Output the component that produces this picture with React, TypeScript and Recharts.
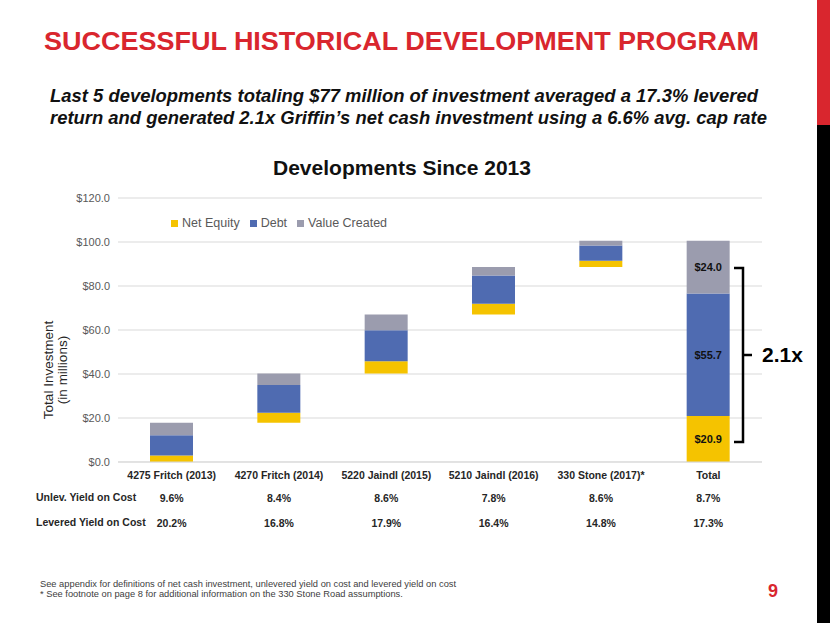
import React from 'react';
import { BarChart, Bar, XAxis, YAxis, CartesianGrid, Legend, LabelList } from 'recharts';

const categories = [
  '4275 Fritch (2013)',
  '4270 Fritch (2014)',
  '5220 Jaindl (2015)',
  '5210 Jaindl (2016)',
  '330 Stone (2017)*',
  'Total',
];
const netEquity = [3.0, 4.6, 5.6, 4.8, 2.9, 20.9];
const debt = [9.2, 12.6, 14.1, 12.9, 6.9, 55.7];
const valueCreated = [5.6, 5.2, 7.2, 3.8, 2.2, 24.0];
const unlevYield = ['9.6%', '8.4%', '8.6%', '7.8%', '8.6%', '8.7%'];
const leveredYield = ['20.2%', '16.8%', '17.9%', '16.4%', '14.8%', '17.3%'];
const seriesNames = ['Net Equity', 'Debt', 'Value Created'];
const yTicks = [0, 20, 40, 60, 80, 100, 120];

const FONT = '"Liberation Sans", Arial, sans-serif';
const YELLOW = '#F5C300';
const BLUE = '#4F6BB1';
const GREY = '#9B9CAE';

// waterfall: each development sits on top of the previous ones, the total starts at zero
let running = 0;
const data = categories.map((name, i) => {
  const isTotal = name === 'Total';
  const base = isTotal ? 0 : running;
  if (!isTotal) running += netEquity[i] + debt[i] + valueCreated[i];
  return {
    name,
    base,
    netEquity: netEquity[i],
    debt: debt[i],
    valueCreated: valueCreated[i],
    eqLabel: isTotal ? netEquity[i] : undefined,
    debtLabel: isTotal ? debt[i] : undefined,
    valueLabel: isTotal ? valueCreated[i] : undefined,
  };
});

const money = (v: any) => (v == null ? '' : `$${Number(v).toFixed(1)}`);

const CategoryTick = (props: any) => {
  const { x, y, payload } = props;
  const i = payload.index;
  return (
    <g fontFamily={FONT} fontWeight="bold" fontSize={10.5} fill="#262626">
      <text x={x} y={y + 9} textAnchor="middle">{payload.value}</text>
      <text x={x} y={y + 32} textAnchor="middle">{unlevYield[i]}</text>
      <text x={x} y={y + 57} textAnchor="middle">{leveredYield[i]}</text>
    </g>
  );
};

export default function App() {
  return (
    <div style={{ position: 'absolute', left: 0, top: 0, width: 830, height: 623, background: '#fff', fontFamily: FONT }}>
      <div style={{ position: 'absolute', left: 0, top: 0 }}>
        <BarChart
          width={830}
          height={623}
          data={data}
          margin={{ top: 198, right: 68, left: 58, bottom: 131 }}
          barSize={43}
        >
          <CartesianGrid vertical={false} stroke="#d9d9d9" />
          <XAxis
            dataKey="name"
            height={30}
            axisLine={{ stroke: '#d9d9d9' }}
            tickLine={false}
            interval={0}
            tick={<CategoryTick />}
          />
          <YAxis
            domain={[0, 120]}
            ticks={yTicks}
            width={60}
            axisLine={false}
            tickLine={false}
            tickSize={6}
            tickFormatter={money}
            tick={{ fontSize: 11, fill: '#595959', fontFamily: FONT }}
          />
          <Legend
            align="center"
            verticalAlign="middle"
            layout="horizontal"
            iconType="square"
            iconSize={7}
            itemSorter={(item: any) => seriesNames.indexOf(item.value)}
            wrapperStyle={{ position: 'absolute', left: 171, top: 216, width: 'auto', whiteSpace: 'nowrap', fontSize: 12.5, fontFamily: FONT }}
            formatter={(v: any) => <span style={{ color: '#595959' }}>{v}</span>}
          />
          <Bar dataKey="base" stackId="a" fill="transparent" legendType="none" isAnimationActive={false} />
          <Bar dataKey="netEquity" name={seriesNames[0]} stackId="a" fill={YELLOW} isAnimationActive={false}>
            <LabelList dataKey="eqLabel" position="center" formatter={money} fill="#111" fontSize={11} fontWeight="bold" />
          </Bar>
          <Bar dataKey="debt" name={seriesNames[1]} stackId="a" fill={BLUE} isAnimationActive={false}>
            <LabelList dataKey="debtLabel" position="center" formatter={money} fill="#111" fontSize={11} fontWeight="bold" />
          </Bar>
          <Bar dataKey="valueCreated" name={seriesNames[2]} stackId="a" fill={GREY} isAnimationActive={false}>
            <LabelList dataKey="valueLabel" position="center" formatter={money} fill="#111" fontSize={11} fontWeight="bold" />
          </Bar>
        </BarChart>
      </div>

      <svg width={830} height={623} style={{ position: 'absolute', left: 0, top: 0, pointerEvents: 'none' }} fontFamily={FONT}>
        <rect x={817} y={0} width={13} height={125} fill="#D9262E" />
        <rect x={817} y={125} width={13} height={498} fill="#000" />

        <text x={44} y={50} fontSize={25} fontWeight="bold" fill="#D9262E" textLength={715} lengthAdjust="spacingAndGlyphs">
          SUCCESSFUL HISTORICAL DEVELOPMENT PROGRAM
        </text>
        <text x={50} y={102} fontSize={18.5} fontWeight="bold" fontStyle="italic" fill="#111" textLength={708} lengthAdjust="spacingAndGlyphs">
          Last 5 developments totaling $77 million of investment averaged a 17.3% levered
        </text>
        <text x={50} y={124} fontSize={18.5} fontWeight="bold" fontStyle="italic" fill="#111" textLength={717} lengthAdjust="spacingAndGlyphs">
          return and generated 2.1x Griffin’s net cash investment using a 6.6% avg. cap rate
        </text>

        <text x={402} y={175} fontSize={21} fontWeight="bold" fill="#111" textAnchor="middle">
          Developments Since 2013
        </text>

        <g transform="translate(53,370) rotate(-90)" fontSize={13.5} fill="#262626">
          <text x={0} y={0} textAnchor="middle">Total Investment</text>
          <text x={0} y={14} textAnchor="middle">(in millions)</text>
        </g>

        <text x={36} y={501} fontSize={10.5} fontWeight="bold" fill="#262626">Unlev. Yield on Cost</text>
        <text x={36} y={526} fontSize={10.5} fontWeight="bold" fill="#262626">Levered Yield on Cost</text>

        <g stroke="#000" strokeWidth={2.5} fill="none">
          <polyline points="734,268 743,268 743,442 734,442" />
          <line x1={743} y1={355} x2={752} y2={355} />
        </g>
        <text x={762} y={362} fontSize={21} fontWeight="bold" fill="#000">2.1x</text>

        <text x={40} y={587} fontSize={9.3} fill="#404040">
          See appendix  for definitions of net cash investment,  unlevered  yield on cost and levered  yield on cost
        </text>
        <text x={40} y={597} fontSize={9.3} fill="#404040">
          * See footnote  on page 8 for additional  information on the 330 Stone Road assumptions.
        </text>
        <text x={773} y={597} fontSize={18} fontWeight="bold" fill="#D9262E" textAnchor="middle">9</text>
      </svg>
    </div>
  );
}
